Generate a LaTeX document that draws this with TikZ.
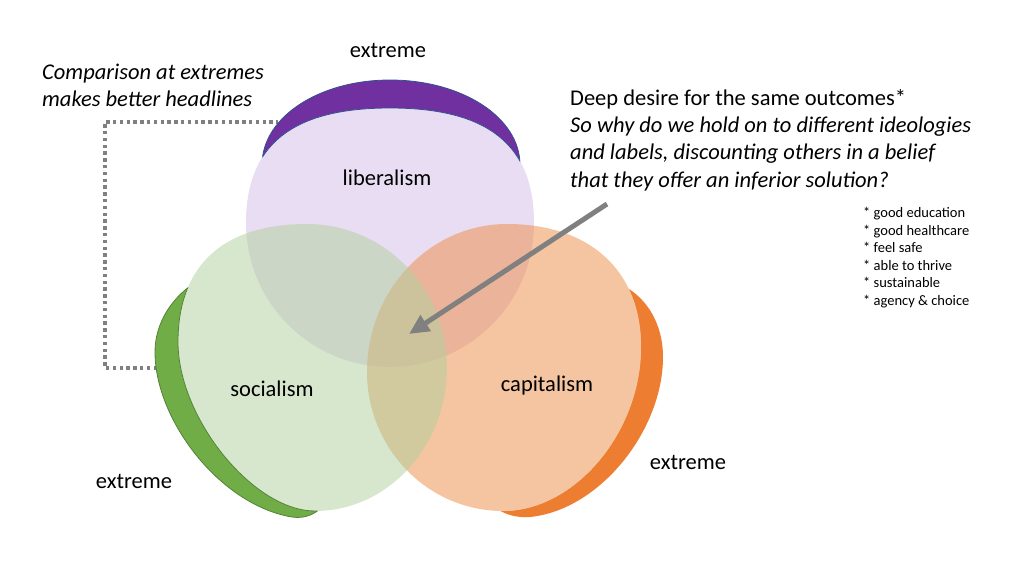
\documentclass[tikz,border=0pt]{standalone}
\usepackage{fontspec}
\setmainfont{Carlito}
\usetikzlibrary{arrows.meta}
\definecolor{darkpurple}{RGB}{112,48,160}
\definecolor{darkgreen}{RGB}{112,173,71}
\definecolor{darkorange}{RGB}{237,125,49}
\definecolor{purpleline}{RGB}{47,82,143}
\definecolor{greenline}{RGB}{84,130,53}
\definecolor{lpurple}{RGB}{213,189,233}
\definecolor{lgreen}{RGB}{175,209,157}
\definecolor{lorange}{RGB}{237,139,67}
\definecolor{conngrey}{RGB}{128,128,128}

% light faces
\newcommand\LibShape[1]{\path[#1] (390,108) .. controls (487.9,108) and (534,144.8) .. (534,223)
  .. controls (534,302.5) and (469.5,367) .. (390,367)
  .. controls (310.5,367) and (246,302.5) .. (246,223)
  .. controls (246,144.8) and (292.1,108) .. cycle;}
\newcommand\SocShape[1]{\path[#1] (307,224) .. controls (384.3,224) and (447,288.1) .. (447,367)
  .. controls (447,446.5) and (387.9,511) .. (315,511)
  .. controls (253.3,511) and (178,418.1) .. (178,342)
  .. controls (178,265.3) and (223.1,224) .. cycle;}
\newcommand\CapShape[1]{\path[#1] (507,224) .. controls (590.1,224) and (641,270.7) .. (641,347)
  .. controls (641,432.3) and (574.8,511) .. (503,511)
  .. controls (427.9,511) and (367,448.7) .. (367,372)
  .. controls (367,290.3) and (429.7,224) .. cycle;}
% dark rims (outer edge)
\newcommand\LibRim{(262,165) .. controls (262,117) and (319.3,80) .. (390,80)
  .. controls (461.4,80) and (520,117) .. (520,165)}
\newcommand\SocRim{(196,282) .. controls (172,297) and (155,323) .. (155,352)
  .. controls (155,420) and (220,505) .. (292,517)
  .. controls (305,519) and (315,514) .. (322,507)}
\newcommand\CapRim{(624,286) .. controls (648,299) and (663,325) .. (663,357)
  .. controls (663,430) and (600,510) .. (530,517)
  .. controls (515,518) and (505,514) .. (495,508)}

\begin{document}
\begin{tikzpicture}[x=1pt,y=-1pt,
  lbl/.style={inner sep=0pt, font=\fontsize{22.5}{27.3}\selectfont, anchor=base},
  note/.style={inner sep=0pt, font=\fontsize{22.5}{27.3}\selectfont, align=left, anchor=north west},
  small/.style={inner sep=0pt, font=\fontsize{14.5}{17.6}\selectfont, align=left, anchor=north west},
  conn/.style={draw=conngrey, line width=3.2pt, dash pattern=on 3.4pt off 3.4pt},
  pointer/.style={draw=conngrey, line width=5pt, -{Triangle[length=20pt,width=18pt]}},
  rimline/.style={line width=0.8pt}]
\useasboundingbox (0,0) rectangle (1026,576);

% dotted connector (behind the shapes)
\coordinate (socedge) at (157,368);
\coordinate (libedge) at (278,122);
\draw[conn] (socedge) -- (105,368) |- (libedge);

% dark rims
\fill[darkpurple] \LibRim -- (520,185) -- (262,185) -- cycle;
\draw[purpleline, rimline] \LibRim;
\fill[darkgreen] \SocRim -- (250,420) -- cycle;
\draw[greenline, rimline] \SocRim;
\fill[darkorange] \CapRim -- (560,420) -- cycle;

% opaque base of the faces
\LibShape{fill=white}
\CapShape{fill=white}
\SocShape{fill=white}

% translucent faces
\LibShape{fill=lpurple, fill opacity=0.5}
\CapShape{fill=lorange, fill opacity=0.5}
\SocShape{fill=lgreen, fill opacity=0.5}

% inner edges of the rims
\begin{scope}
  \clip \LibRim -- (520,185) -- (262,185) -- cycle;
  \LibShape{draw=purpleline, rimline}
\end{scope}
\begin{scope}
  \clip \SocRim -- (250,420) -- cycle;
  \SocShape{draw=greenline, rimline}
\end{scope}

% pointer arrow
\coordinate (arrowstart) at (607,204);
\coordinate (centre) at (409,334);
\draw[pointer] (arrowstart) -- (centre);

% labels
\node[lbl] (extop) at (388,57) {extreme};
\node[lbl] (lib) at (387,185) {liberalism};
\node[lbl] (soc) at (272,396) {socialism};
\node[lbl] (cap) at (547,391) {capitalism};
\node[lbl] (exleft) at (134,488) {extreme};
\node[lbl] (exright) at (688,469) {extreme};

\node[note, font=\fontsize{22.5}{27.3}\selectfont\itshape] (headline) at (42,60)
  {\strut Comparison at extremes\\\strut makes better headlines};
\node[note] (desire) at (570,86)
  {\strut Deep desire for the same outcomes*\\
   \itshape\strut So why do we hold on to different ideologies\\
   \itshape\strut and labels, discounting others in a belief\\
   \itshape\strut that they offer an inferior solution?};
\node[small] (outcomes) at (863,205)
  {\strut * good education\\\strut * good healthcare\\\strut * feel safe\\
   \strut * able to thrive\\\strut * sustainable\\\strut * agency \& choice};
\end{tikzpicture}
\end{document}
